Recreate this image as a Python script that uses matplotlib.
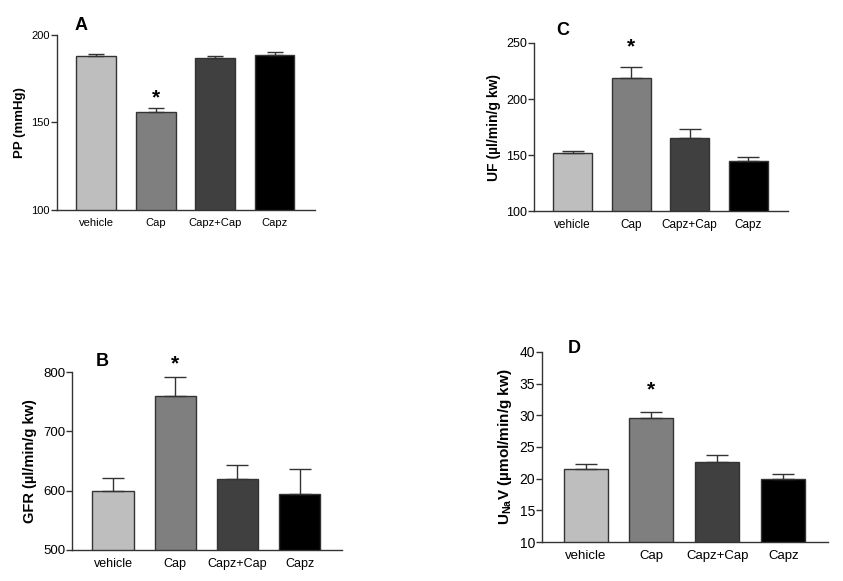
import matplotlib
matplotlib.use('Agg')
import matplotlib.pyplot as plt
from matplotlib import rcParams

# fonts
rcParams.update({
    "font.family": ['Liberation Sans', 'DejaVu Sans'],
    "mathtext.fontset": 'custom',
    "mathtext.rm": 'Liberation Sans',
    "mathtext.bf": 'Liberation Sans:bold',
    "axes.linewidth": 1.0,
})

# data
groups = ['vehicle', 'Cap', 'Capz+Cap', 'Capz']
pp_mean = [188.0, 156.2, 186.8, 188.3]
pp_sem = [1.1, 1.9, 1.0, 1.9]
uf_mean = [151.5, 218.5, 165.5, 144.6]
uf_sem = [2.4, 10.2, 8.0, 3.6]
gfr_mean = [600, 760, 619, 594]
gfr_sem = [22, 31, 25, 42]
una_mean = [21.5, 29.5, 22.6, 20.0]
una_sem = [0.75, 0.95, 1.1, 0.75]

colors = ['#bebebe', '#7f7f7f', '#404040', '#000000']
edge = '#333333'
W, H = 843, 581


def panel(rect, mean, sem, ylim, yticks, ylabel, letter, letter_xy, star_y,
          fs_tick=8, fs_cat=8, fs_label=9.5, capsize=8):
    ax = fig.add_axes(rect)
    x = list(range(len(groups)))
    ax.bar(x, mean, width=0.667, color=colors, edgecolor=edge, linewidth=1.0, zorder=2)
    ax.errorbar(x, mean, yerr=[[0] * len(sem), sem], fmt='none', ecolor=edge,
                elinewidth=1.0, capsize=capsize, capthick=1.0, zorder=3)
    ax.set_xlim(-0.66, 3.68)
    ax.set_ylim(ylim)
    ax.set_yticks(yticks)
    ax.set_xticks(x)
    ax.set_xticklabels(groups, fontsize=fs_cat)
    ax.tick_params(axis='x', length=0, pad=6)
    ax.tick_params(axis='y', length=4, width=1.0, color=edge, labelsize=fs_tick, pad=1)
    for s in ['top', 'right']:
        ax.spines[s].set_visible(False)
    for s in ['left', 'bottom']:
        ax.spines[s].set_color(edge)
    ax.set_ylabel(ylabel, fontsize=fs_label, fontweight='bold', labelpad=4)
    # panel letter (pixel position of the baseline)
    fig.text(letter_xy[0] / W, 1 - letter_xy[1] / H, letter, fontsize=13,
             fontweight='bold', va='baseline', ha='left')
    # significance star over Cap
    ax.text(1, star_y, '*', fontsize=15, fontweight='bold', ha='center',
            va='center', clip_on=False)
    return ax


fig = plt.figure(figsize=(8.43, 5.81), dpi=100)

panel([0.0676, 0.6386, 0.3061, 0.3012], pp_mean, pp_sem, (100, 200), [100, 150, 200],
      'PP (mmHg)', 'A', (75, 30), 164, capsize=6)
panel([0.6335, 0.6368, 0.3013, 0.2892], uf_mean, uf_sem, (100, 250), [100, 150, 200, 250],
      'UF (µl/min/g kw)', 'C', (556, 35), 246.5, fs_tick=9, fs_cat=8.5, fs_label=10)
panel([0.0854, 0.0534, 0.3203, 0.3063], gfr_mean, gfr_sem, (500, 800), [500, 600, 700, 800],
      'GFR (µl/min/g kw)', 'B', (96, 366), 814, fs_tick=9.5, fs_cat=9, fs_label=10.5)
panel([0.6430, 0.0671, 0.3392, 0.3271], una_mean, una_sem, (10, 40), [10, 15, 20, 25, 30, 35, 40],
      r'$\mathbf{U}_{\mathbf{Na}}$V (µmol/min/g kw)', 'D', (568, 353), 34.0,
      fs_tick=10, fs_cat=9.5, fs_label=11)

fig.savefig('out.png', dpi=100)
